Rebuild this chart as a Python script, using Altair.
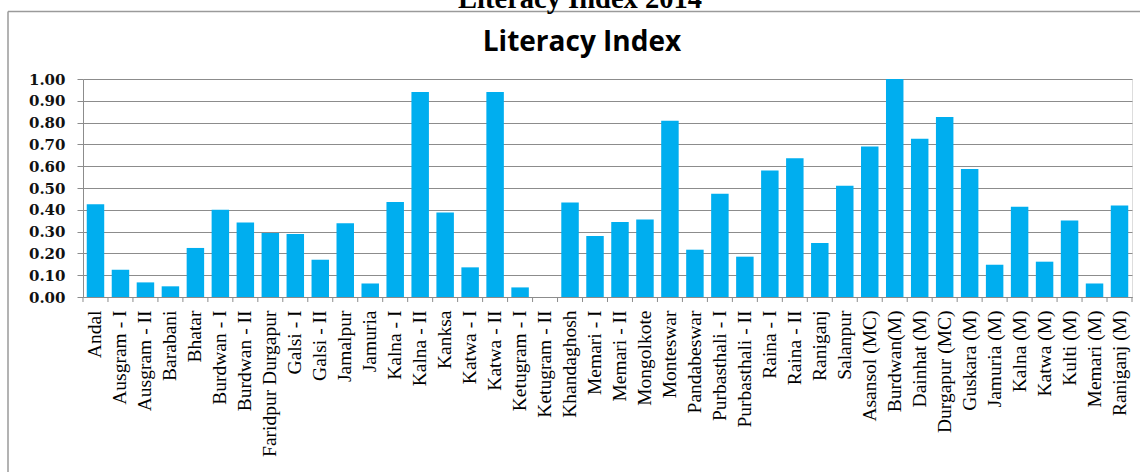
import altair as alt
import pandas as pd

blocks = [
    "Andal", "Ausgram - I", "Ausgram - II", "Barabani", "Bhatar", "Burdwan - I",
    "Burdwan - II", "Faridpur Durgapur", "Galsi - I", "Galsi - II", "Jamalpur",
    "Jamuria", "Kalna - I", "Kalna - II", "Kanksa", "Katwa - I", "Katwa - II",
    "Ketugram - I", "Ketugram - II", "Khandaghosh", "Memari - I", "Memari - II",
    "Mongolkote", "Monteswar", "Pandabeswar", "Purbasthali - I",
    "Purbasthali - II", "Raina - I", "Raina - II", "Raniganj", "Salanpur",
    "Asansol (MC)", "Burdwan(M)", "Dainhat (M)", "Durgapur (MC)", "Guskara (M)",
    "Jamuria (M)", "Kalna (M)", "Katwa (M)", "Kulti (M)", "Memari (M)",
    "Raniganj (M)",
]
literacy_index = [
    0.425, 0.125, 0.067, 0.049, 0.225, 0.400,
    0.342, 0.294, 0.289, 0.171, 0.338,
    0.062, 0.436, 0.940, 0.388, 0.136, 0.940,
    0.044, 0.000, 0.434, 0.280, 0.344,
    0.356, 0.809, 0.217, 0.474,
    0.185, 0.580, 0.636, 0.248, 0.510,
    0.690, 1.000, 0.726, 0.826, 0.587,
    0.148, 0.414, 0.162, 0.351, 0.062,
    0.420,
]
y_ticks = [0.0, 0.1, 0.2, 0.3, 0.4, 0.5, 0.6, 0.7, 0.8, 0.9, 1.0]
chart_title = ["Literacy Index"]
page_title = ["Literacy Index 2014"]

df = pd.DataFrame({"block": blocks, "value": literacy_index})

W, H = 1049, 218
GRAY = "#8c8c8c"

xscale = alt.Scale(paddingInner=0.3, paddingOuter=0.15)

bars = alt.Chart(df).mark_bar(color="#00AEEF").encode(
    x=alt.X(
        "block:N", sort=blocks, scale=xscale,
        axis=alt.Axis(
            title=None, labelAngle=-90, labelFont="Liberation Serif",
            labelFontSize=19.5, labelColor="black", ticks=False,
            domainColor=GRAY, labelPadding=13, labelLimit=400,
        ),
    ),
    y=alt.Y(
        "value:Q", scale=alt.Scale(domain=[0, 1]),
        axis=alt.Axis(
            title=None, values=y_ticks, format=".2f", labelFont="DejaVu Serif",
            labelFontSize=15, labelFontWeight="bold", labelColor="#111",
            gridColor=GRAY, domainColor=GRAY, tickColor=GRAY, tickSize=6,
            labelPadding=12,
        ),
    ),
)

ticks = alt.Chart(df).mark_rule(color=GRAY, xOffset=-3.75).encode(
    x=alt.X("block:N", sort=blocks, scale=xscale, bandPosition=0),
    y=alt.value(H), y2=alt.value(H + 5),
)
end_tick = alt.Chart(pd.DataFrame({"a": [0]})).mark_rule(color=GRAY).encode(
    x=alt.value(W), y=alt.value(H), y2=alt.value(H + 5),
)

top_border = alt.Chart(pd.DataFrame({"a": [0]})).mark_rule(
    color="#9a9a9a", strokeWidth=1.5
).encode(x=alt.value(-75), x2=alt.value(1057), y=alt.value(-67.5))
left_border = alt.Chart(pd.DataFrame({"a": [0]})).mark_rule(
    color="#9a9a9a", strokeWidth=1.5
).encode(x=alt.value(-75), y=alt.value(-67.5), y2=alt.value(400))

inner_title = alt.Chart(pd.DataFrame({"t": chart_title})).mark_text(
    font="Open Sans", fontSize=28, fontWeight="bold", color="black",
    align="center", baseline="alphabetic",
).encode(text="t:N", x=alt.value(499), y=alt.value(-28))

outer_title = alt.Chart(pd.DataFrame({"t": page_title})).mark_text(
    font="Liberation Serif", fontSize=28.5, fontWeight="bold", color="black",
    align="center", baseline="alphabetic",
).encode(text="t:N", x=alt.value(497), y=alt.value(-71))

chart = alt.layer(
    top_border, left_border, bars, ticks, end_tick, inner_title, outer_title
).properties(
    width=W, height=H,
    autosize=alt.AutoSizeParams(type="none"),
    padding={"left": 83, "top": 79, "right": 10, "bottom": 175},
).configure_view(stroke=None).configure(background="white")

chart.save("out.html", embed_options={"renderer": "svg", "actions": False})
